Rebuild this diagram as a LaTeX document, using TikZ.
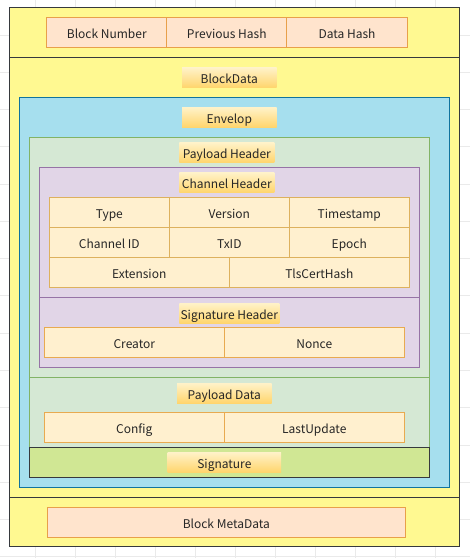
\documentclass[tikz,border=0pt]{standalone}
\usepackage{fontspec}
\setmainfont{Noto Sans CJK SC}
\definecolor{gridc}{HTML}{EAEAEA}
\definecolor{darkline}{HTML}{36393D}
\definecolor{yellowfill}{HTML}{FFF991}
\definecolor{hdrfill}{HTML}{FFE4CD}
\definecolor{hdrline}{HTML}{E8A04A}
\definecolor{bluefill}{HTML}{A6DFEE}
\definecolor{blueline}{HTML}{10739E}
\definecolor{greenfill}{HTML}{D5E8D4}
\definecolor{greenline}{HTML}{82B366}
\definecolor{purplefill}{HTML}{E1D5E7}
\definecolor{purpleline}{HTML}{9673A6}
\definecolor{cellfill}{HTML}{FFF0CF}
\definecolor{cellline}{HTML}{DDB15E}
\definecolor{cell2line}{HTML}{E8AA50}
\definecolor{sigfill}{HTML}{D0E794}
\definecolor{lbtop}{HTML}{FFF2C8}
\definecolor{lbbot}{HTML}{FFD56C}
\definecolor{txt}{HTML}{262626}
\tikzset{
  txtfont/.style={text=txt, font=\fontsize{12}{14}\selectfont, text height=11.5pt, text depth=0pt},
  box/.style={draw, line width=1pt, inner sep=0pt, outer sep=0pt, anchor=north west},
  outerbox/.style={box, draw=darkline, fill=yellowfill},
  hdrcell/.style={box, draw=hdrline, fill=hdrfill, txtfont},
  bluebox/.style={box, draw=blueline, fill=bluefill},
  greenbox/.style={box, draw=greenline, fill=greenfill},
  purplebox/.style={box, draw=purpleline, fill=purplefill},
  tcell/.style={box, draw=cellline, fill=cellfill, txtfont},
  scell/.style={box, draw=cell2line, fill=cellfill, txtfont},
  sigbox/.style={box, draw=darkline, fill=sigfill},
  lbl/.style={inner sep=0pt, outer sep=0pt, anchor=north west, top color=lbtop, bottom color=lbbot, txtfont, minimum height=20pt},
  sepline/.style={line width=1pt}
}
\begin{document}
\begin{tikzpicture}[x=1pt,y=-1pt]
\useasboundingbox (0,0) rectangle (470,558);
\fill[white] (0,0) rectangle (470,558);
% background grid
\foreach \gx in {-5,35,...,475} \draw[gridc, line width=0.7pt] (\gx,0) -- (\gx,558);
\foreach \k in {-1,...,14} \draw[gridc, line width=0.7pt] (0,35+37.26*\k) -- (470,35+37.26*\k);

% outer block
\node[outerbox, minimum width=449.5pt, minimum height=539pt] (block) at (9.8,7.8) {};
\coordinate (hsepL) at (9.8,57.3);
\coordinate (hsepR) at (459.3,57.3);
\coordinate (msepL) at (9.8,497.3);
\coordinate (msepR) at (459.3,497.3);
\draw[sepline, darkline] (hsepL) -- (hsepR);
\draw[sepline, darkline] (msepL) -- (msepR);

% header
\node[hdrcell, minimum width=120pt, minimum height=30pt] (bnum) at (46.8,17.3) {Block Number};
\node[hdrcell, minimum width=120pt, minimum height=30pt] (phash) at (166.8,17.3) {Previous Hash};
\node[hdrcell, minimum width=120.5pt, minimum height=30pt] (dhash) at (286.8,17.3) {Data Hash};

\node[lbl, minimum width=94.5pt] (blockdata) at (182,67.7) {BlockData};

% envelope
\node[bluebox, minimum width=430pt, minimum height=390pt] (env) at (19.3,97.3) {};
\node[lbl, minimum width=94.5pt] (envlbl) at (182,107.3) {Envelop};

% payload
\node[greenbox, minimum width=400pt, minimum height=310pt] (payload) at (29.3,137.3) {};
\node[lbl, minimum width=95pt] (phlbl) at (179.3,142.7) {Payload Header};

% channel header
\node[purplebox, minimum width=380pt, minimum height=200pt] (chdr) at (39.3,167.3) {};
\coordinate (psepL) at (39.3,297.3);
\coordinate (psepR) at (419.3,297.3);
\draw[sepline, purpleline] (psepL) -- (psepR);
\node[lbl, minimum width=95pt] (chlbl) at (179.3,172.7) {Channel Header};

\node[tcell, minimum width=120pt, minimum height=30pt] (type) at (49.3,197.3) {Type};
\node[tcell, minimum width=120pt, minimum height=30pt] (version) at (169.3,197.3) {Version};
\node[tcell, minimum width=120pt, minimum height=30pt] (tstamp) at (289.3,197.3) {Timestamp};
\node[tcell, minimum width=120pt, minimum height=30pt] (chid) at (49.3,227.3) {Channel ID};
\node[tcell, minimum width=120pt, minimum height=30pt] (txid) at (169.3,227.3) {TxID};
\node[tcell, minimum width=120pt, minimum height=30pt] (epoch) at (289.3,227.3) {Epoch};
\node[tcell, minimum width=180pt, minimum height=30pt] (ext) at (49.3,257.3) {Extension};
\node[tcell, minimum width=180pt, minimum height=30pt] (tls) at (229.3,257.3) {TlsCertHash};

% signature header
\node[lbl, minimum width=100pt] (shlbl) at (179.3,303.3) {Signature Header};
\node[scell, minimum width=180pt, minimum height=30pt] (creator) at (44.3,327.3) {Creator};
\node[scell, minimum width=180pt, minimum height=30pt] (nonce) at (224.3,327.3) {Nonce};

% payload data
\coordinate (dsepL) at (29.3,377.3);
\coordinate (dsepR) at (429.3,377.3);
\draw[sepline, greenline] (dsepL) -- (dsepR);
\node[lbl, minimum width=94.7pt] (pdlbl) at (177,383.3) {Payload Data};
\node[scell, minimum width=180pt, minimum height=30pt] (config) at (44.3,412.3) {Config};
\node[scell, minimum width=180pt, minimum height=30pt] (lastup) at (224.3,412.3) {LastUpdate};

% signature
\node[sigbox, minimum width=400pt, minimum height=30pt] (sig) at (29.3,447.3) {};
\node[lbl, minimum width=113.3pt] (siglbl) at (167.7,452.3) {Signature};

% metadata
\node[hdrcell, minimum width=358pt, minimum height=30pt] (meta) at (47.3,507.3) {Block MetaData};
\end{tikzpicture}
\end{document}
